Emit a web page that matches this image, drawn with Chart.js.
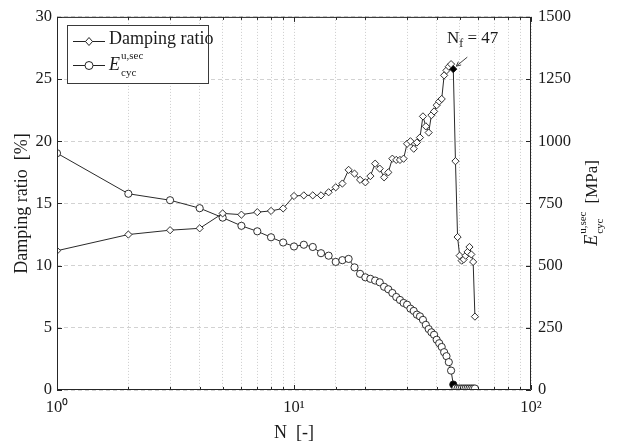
<!DOCTYPE html>
<html>
<head>
<meta charset="utf-8">
<script src="https://cdn.jsdelivr.net/npm/chart.js@4.4.0/dist/chart.umd.min.js"></script>
<style>
  html, body { margin: 0; padding: 0; background: #fff; }
  #wrap { position: relative; width: 618px; height: 444px; font-family: 'Liberation Serif', 'Times New Roman', serif; color: #1a1a1a; }
  #chart { position: absolute; left: 0; top: 0; }
  .txt { position: absolute; white-space: nowrap; line-height: 1; }
  .legend-box { position: absolute; left: 67px; top: 25px; width: 142px; height: 59px; box-sizing: border-box; border: 1px solid #3a3a3a; background: #fff; }
  .E { position: relative; font-style: italic; display: inline-block; }
  .E .sup, .E .sub { position: absolute; left: 100%; font-style: normal; font-size: 11px; line-height: 1; margin-left: 1px; }
  .E .sup { top: -5px; }
  .E .sub { top: 12px; }
  #ytitle2 { position: absolute; left: 591px; top: 203px; transform: translate(-50%, -50%) rotate(-90deg); white-space: nowrap; line-height: 1; font-size: 17px; }
</style>
</head>
<body>
<div id="wrap">
  <canvas id="chart" width="618" height="444"></canvas>

  <div class="legend-box"></div>
  <svg style="position:absolute;left:0;top:0" width="618" height="444">
    <g stroke="#222" stroke-width="1" fill="#fff">
      <line x1="73" y1="41.5" x2="105" y2="41.5"></line>
      <polygon points="89,37.5 92.5,41.5 89,45.5 85.5,41.5"></polygon>
      <line x1="73" y1="65.5" x2="105" y2="65.5"></line>
      <circle cx="89" cy="65.5" r="4"></circle>
    </g>
  </svg>
  <div class="txt" style="left:109px; top:29px; font-size:18px;">Damping ratio</div>
  <div class="txt" style="left:109px; top:55px; font-size:18px;"><span class="E">E<span class="sup">u,sec</span><span class="sub">cyc</span></span></div>

  <div id="ytitle2"><span class="E" style="font-size:18px; margin-right:27px">E<span class="sup">u,sec</span><span class="sub">cyc</span></span>&nbsp;[MPa]</div>

  <div class="txt" style="left:447px; top:29px; font-size:17px;">N<sub style="font-size:12px; vertical-align:-4px">f</sub> = 47</div>
</div>

<script>
const cycles = [
    1, 2, 3, 4, 5, 6, 7, 8, 9, 10,
    11, 12, 13, 14, 15, 16, 17, 18, 19, 20,
    21, 22, 23, 24, 25, 26, 27, 28, 29, 30,
    31, 32, 33, 34, 35, 36, 37, 38, 39, 40,
    41, 42, 43, 44, 45, 46, 47, 48, 49, 50,
    51, 52, 53, 54, 55, 56, 57, 58
];

// damping ratio [%]
const dampingRatio = [
    11.2, 12.5, 12.85, 13.0, 14.2, 14.1, 14.3, 14.4, 14.6, 15.6,
    15.65, 15.65, 15.65, 15.9, 16.3, 16.6, 17.7, 17.4, 16.9, 16.7,
    17.2, 18.2, 17.8, 17.1, 17.5, 18.6, 18.5, 18.5, 18.6, 19.8,
    20.0, 19.4, 19.9, 20.3, 22.0, 21.2, 20.7, 22.1, 22.4, 22.9,
    23.2, 23.4, 25.3, 25.7, 26.0, 26.2, 25.8, 18.4, 12.3, 10.8,
    10.4, 10.5, 10.8, 11.1, 11.5, 10.9, 10.3, 5.9
];

// secant modulus E_cyc^{u,sec} [MPa]
const secantModulus = [
    952, 789, 763, 731, 693, 660, 638, 614, 593, 577,
    584, 575, 550, 540, 515, 522, 527, 493, 467, 453,
    447, 440, 433, 415, 405, 390, 374, 362, 350, 343,
    327, 318, 303, 296, 282, 262, 245, 232, 222, 202,
    188, 173, 152, 136, 112, 78, 22, 7, 6, 6,
    6, 6, 6, 6, 6, 6, 6, 6
];

const FAILURE_CYCLE = 47;
const xTickLabels = { 1: '10⁰', 10: '10¹', 100: '10²' };
const FONT = "'Liberation Serif', 'Times New Roman', serif";

const dampingPoints = cycles.map((n, i) => ({ x: n, y: dampingRatio[i] }));
const modulusPoints = cycles.map((n, i) => ({ x: n, y: secantModulus[i] }));

const markerFill = (ctx) => (ctx.raw && ctx.raw.x === FAILURE_CYCLE ? '#000' : '#fff');

// MATLAB-like box, inward ticks and the N_f arrow
const framePlugin = {
    id: 'frame',
    afterDatasetsDraw(chart) {
        const { ctx, chartArea: a, scales: { x, y, y1 } } = chart;
        ctx.save();
        ctx.strokeStyle = '#262626';
        ctx.lineWidth = 1;
        ctx.beginPath();
        ctx.rect(a.left + 0.5, a.top + 0.5, a.right - a.left - 1, a.bottom - a.top - 1);

        y.ticks.forEach((t) => {
            const py = Math.round(y.getPixelForValue(t.value)) + 0.5;
            ctx.moveTo(a.left, py);
            ctx.lineTo(a.left + 5, py);
        });
        y1.ticks.forEach((t) => {
            const py = Math.round(y1.getPixelForValue(t.value)) + 0.5;
            ctx.moveTo(a.right, py);
            ctx.lineTo(a.right - 5, py);
        });
        x.ticks.forEach((t) => {
            const px = Math.round(x.getPixelForValue(t.value)) + 0.5;
            const len = xTickLabels[t.value] ? 5 : 3;
            ctx.moveTo(px, a.bottom);
            ctx.lineTo(px, a.bottom - len);
            ctx.moveTo(px, a.top);
            ctx.lineTo(px, a.top + len);
        });
        ctx.stroke();

        // arrow pointing at the failure cycle
        const idx = cycles.indexOf(FAILURE_CYCLE);
        const tipX = x.getPixelForValue(FAILURE_CYCLE) + 3;
        const tipY = y.getPixelForValue(dampingRatio[idx]) - 3;
        const tailX = tipX + 11;
        const tailY = tipY - 9;
        const ang = Math.atan2(tipY - tailY, tipX - tailX);
        ctx.strokeStyle = '#444';
        ctx.beginPath();
        ctx.moveTo(tailX, tailY);
        ctx.lineTo(tipX, tipY);
        ctx.moveTo(tipX - 5 * Math.cos(ang - 0.45), tipY - 5 * Math.sin(ang - 0.45));
        ctx.lineTo(tipX, tipY);
        ctx.lineTo(tipX - 5 * Math.cos(ang + 0.45), tipY - 5 * Math.sin(ang + 0.45));
        ctx.stroke();
        ctx.restore();
    }
};

const tickFont = { family: FONT, size: 16.5 };

new Chart(document.getElementById('chart'), {
    type: 'line',
    data: {
        datasets: [
            {
                label: 'Damping ratio',
                data: dampingPoints,
                yAxisID: 'y',
                borderColor: '#2a2a2a',
                borderWidth: 1,
                pointStyle: 'rectRot',
                pointRadius: 3.6,
                pointBorderWidth: 0.9,
                pointBorderColor: '#1a1a1a',
                pointBackgroundColor: markerFill,
                tension: 0
            },
            {
                label: 'E_cyc^u,sec',
                data: modulusPoints,
                yAxisID: 'y1',
                borderColor: '#2a2a2a',
                borderWidth: 1,
                pointStyle: 'circle',
                pointRadius: 3.6,
                pointBorderWidth: 0.9,
                pointBorderColor: '#1a1a1a',
                pointBackgroundColor: markerFill,
                tension: 0
            }
        ]
    },
    options: {
        responsive: false,
        animation: false,
        devicePixelRatio: 1,
        layout: { padding: { top: 15, left: 0, right: 0, bottom: 0 } },
        plugins: {
            legend: { display: false },
            tooltip: { enabled: false }
        },
        scales: {
            x: {
                type: 'logarithmic',
                min: 1,
                max: 100,
                afterFit: (scale) => { scale.height = 54; },
                border: { display: false, dash: [1, 2] },
                grid: { color: '#cdcdcd', lineWidth: 1, drawTicks: false },
                ticks: {
                    autoSkip: false,
                    maxRotation: 0,
                    padding: 8,
                    color: '#1a1a1a',
                    font: tickFont,
                    callback: (value) => xTickLabels[value] || ''
                },
                title: {
                    display: true,
                    text: 'N  [-]',
                    color: '#1a1a1a',
                    font: { family: FONT, size: 18 },
                    padding: { top: 0, bottom: 0 }
                }
            },
            y: {
                position: 'left',
                min: 0,
                max: 30,
                afterFit: (scale) => { scale.width = 57; },
                border: { display: false, dash: [4, 3] },
                grid: { color: '#d2d2d2', lineWidth: 1, drawTicks: false },
                ticks: { stepSize: 5, padding: 5, color: '#1a1a1a', font: tickFont },
                title: {
                    display: true,
                    text: 'Damping ratio  [%]',
                    color: '#1a1a1a',
                    font: { family: FONT, size: 18 },
                    padding: { top: 11, bottom: 0 }
                }
            },
            y1: {
                position: 'right',
                min: 0,
                max: 1500,
                afterFit: (scale) => { scale.width = 87; },
                border: { display: false },
                grid: { display: false, drawTicks: false },
                ticks: {
                    stepSize: 250,
                    padding: 7,
                    color: '#1a1a1a',
                    font: tickFont,
                    callback: (value) => String(value)
                }
            }
        }
    },
    plugins: [framePlugin]
});
</script>
</body>
</html>
